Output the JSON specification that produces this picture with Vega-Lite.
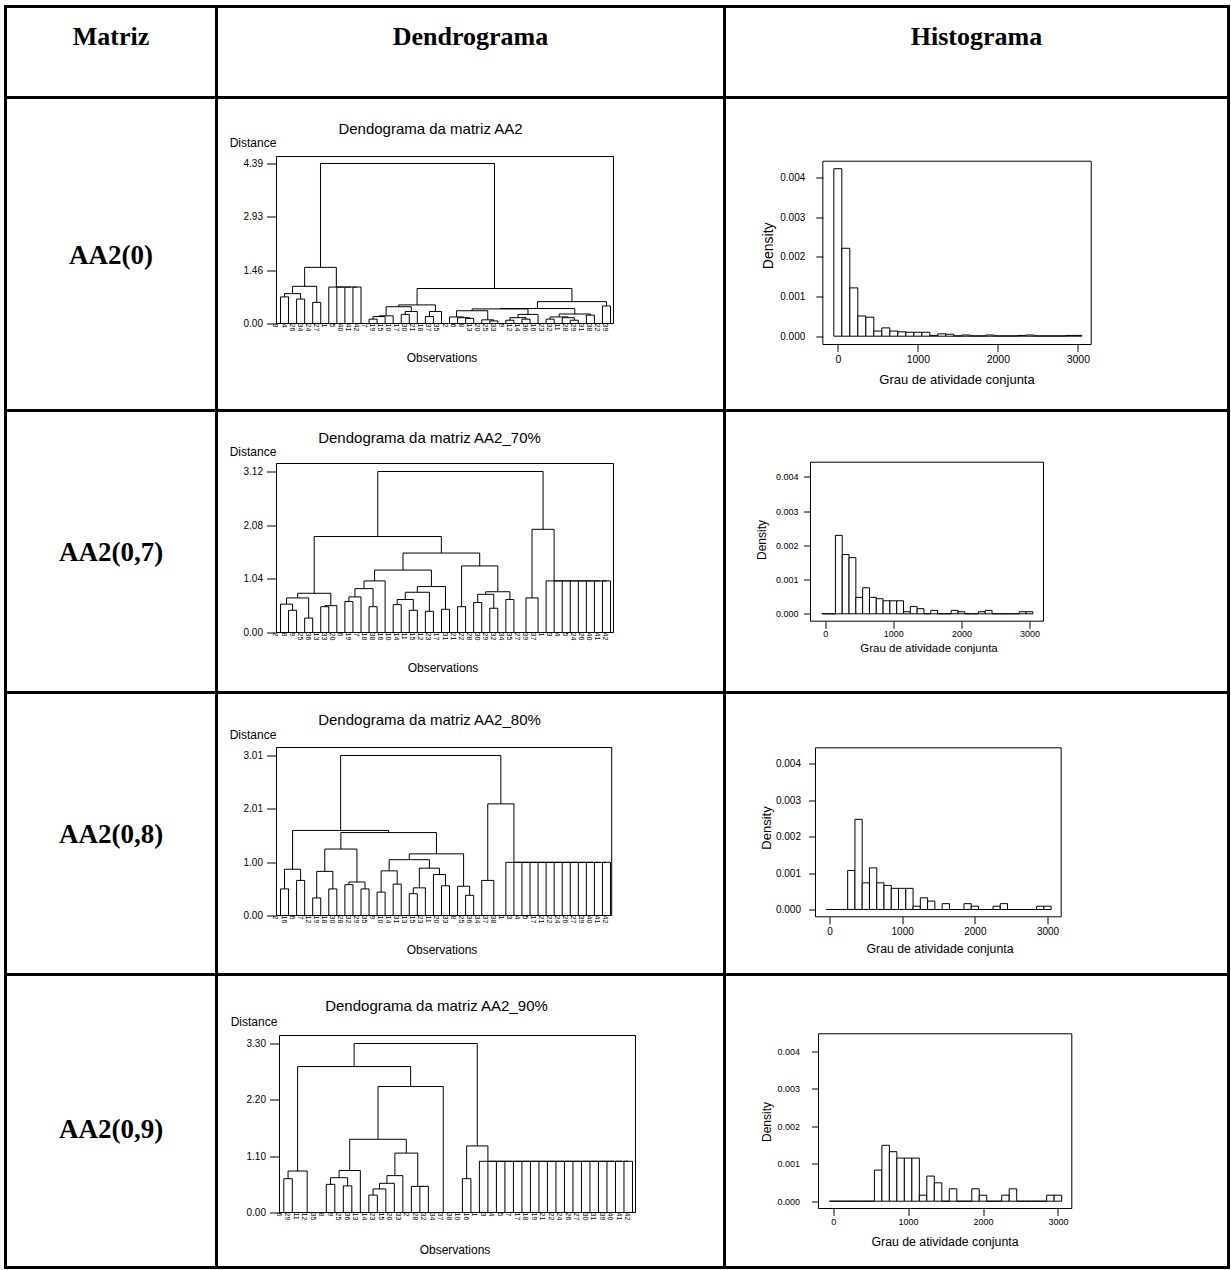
{
"$schema": "https://vega.github.io/schema/vega-lite/v6.json",
"background": "white",
"padding": {"left": 3.5, "top": 4.5, "right": 0, "bottom": 0},
"columns": 3,
"spacing": 0,
"bounds": "flush",
"config": {
  "view": {"stroke": "black", "strokeWidth": 3},
  "font": "Liberation Sans",
  "axis": {"labelColor": "black", "tickColor": "black", "titleColor": "black", "labelFont": "Liberation Sans", "titleFont": "Liberation Sans", "titleFontWeight": "normal", "grid": false, "domain": false, "tickWidth": 1},
  "title": {"color": "black", "fontWeight": "normal", "font": "Liberation Sans"}
},
"datasets": {
  "d1m": [
    {"xl":1,"hl":0,"xr":2,"hr":0,"h":0.73},{"xl":3,"hl":0,"xr":4,"hr":0,"h":0.67},{"xl":1.5,"hl":0.73,"xr":3.5,"hr":0.67,"h":0.82},
    {"xl":5,"hl":0,"xr":6,"hr":0,"h":0.58},{"xl":2.5,"hl":0.82,"xr":5.5,"hr":0.58,"h":1.02},
    {"xl":10,"hl":0,"xr":11,"hr":0,"h":1.0},{"xl":9,"hl":0,"xr":10.5,"hr":1.0,"h":1.0},{"xl":8,"hl":0,"xr":9.75,"hr":1.0,"h":1.0},{"xl":7,"hl":0,"xr":8.875,"hr":1.0,"h":1.0},
    {"xl":4,"hl":1.02,"xr":7.9375,"hr":1.0,"h":1.54},
    {"xl":12,"hl":0,"xr":13,"hr":0,"h":0.12},{"xl":12.5,"hl":0.12,"xr":14,"hr":0,"h":0.19},{"xl":13.25,"hl":0.19,"xr":15,"hr":0,"h":0.21},
    {"xl":16,"hl":0,"xr":17,"hr":0,"h":0.25},{"xl":16.5,"hl":0.25,"xr":18,"hr":0,"h":0.33},{"xl":14.125,"hl":0.21,"xr":17.25,"hr":0.33,"h":0.46},
    {"xl":19,"hl":0,"xr":20,"hr":0,"h":0.19},{"xl":19.5,"hl":0.19,"xr":21,"hr":0,"h":0.33},{"xl":15.6875,"hl":0.46,"xr":20.25,"hr":0.33,"h":0.51},
    {"xl":24,"hl":0,"xr":25,"hr":0,"h":0.14},{"xl":23,"hl":0,"xr":24.5,"hr":0.14,"h":0.16},{"xl":22,"hl":0,"xr":23.75,"hr":0.16,"h":0.18},
    {"xl":27,"hl":0,"xr":28,"hr":0,"h":0.07},{"xl":26,"hl":0,"xr":27.5,"hr":0.07,"h":0.10},{"xl":22.875,"hl":0.18,"xr":26.75,"hr":0.10,"h":0.35},
    {"xl":29,"hl":0,"xr":30,"hr":0,"h":0.09},{"xl":31,"hl":0,"xr":32,"hr":0,"h":0.12},{"xl":29.5,"hl":0.09,"xr":31.5,"hr":0.12,"h":0.16},
    {"xl":30.5,"hl":0.16,"xr":33,"hr":0,"h":0.25},{"xl":24.8125,"hl":0.35,"xr":31.75,"hr":0.25,"h":0.40},
    {"xl":34,"hl":0,"xr":35,"hr":0,"h":0.12},{"xl":37,"hl":0,"xr":38,"hr":0,"h":0.09},{"xl":36,"hl":0,"xr":37.5,"hr":0.09,"h":0.16},
    {"xl":34.5,"hl":0.12,"xr":36.75,"hr":0.16,"h":0.18},{"xl":39,"hl":0,"xr":40,"hr":0,"h":0.23},{"xl":35.625,"hl":0.18,"xr":39.5,"hr":0.23,"h":0.26},
    {"xl":28.28125,"hl":0.40,"xr":37.5625,"hr":0.26,"h":0.41},{"xl":41,"hl":0,"xr":42,"hr":0,"h":0.48},
    {"xl":32.921875,"hl":0.41,"xr":41.5,"hr":0.48,"h":0.60},{"xl":17.96875,"hl":0.51,"xr":37.2109,"hr":0.60,"h":0.96},
    {"xl":5.96875,"hl":1.54,"xr":27.5898,"hr":0.96,"h":4.39}
  ],
  "d1l": [
    {"pos":1,"lab":"3"},{"pos":2,"lab":"4"},{"pos":3,"lab":"26"},{"pos":4,"lab":"34"},{"pos":5,"lab":"24"},{"pos":6,"lab":"27"},{"pos":7,"lab":"1"},{"pos":8,"lab":"5"},{"pos":9,"lab":"40"},{"pos":10,"lab":"41"},{"pos":11,"lab":"42"},{"pos":12,"lab":"7"},{"pos":13,"lab":"19"},{"pos":14,"lab":"15"},{"pos":15,"lab":"10"},{"pos":16,"lab":"17"},{"pos":17,"lab":"30"},{"pos":18,"lab":"21"},{"pos":19,"lab":"18"},{"pos":20,"lab":"37"},{"pos":21,"lab":"35"},{"pos":22,"lab":"2"},{"pos":23,"lab":"6"},{"pos":24,"lab":"8"},{"pos":25,"lab":"13"},{"pos":26,"lab":"20"},{"pos":27,"lab":"25"},{"pos":28,"lab":"33"},{"pos":29,"lab":"9"},{"pos":30,"lab":"12"},{"pos":31,"lab":"14"},{"pos":32,"lab":"36"},{"pos":33,"lab":"16"},{"pos":34,"lab":"23"},{"pos":35,"lab":"32"},{"pos":36,"lab":"11"},{"pos":37,"lab":"28"},{"pos":38,"lab":"29"},{"pos":39,"lab":"31"},{"pos":40,"lab":"38"},{"pos":41,"lab":"22"},{"pos":42,"lab":"39"}
  ],
  "d2m": [
    {"xl":2,"hl":0,"xr":3,"hr":0,"h":0.43},{"xl":1,"hl":0,"xr":2.5,"hr":0.43,"h":0.55},{"xl":4,"hl":0,"xr":5,"hr":0,"h":0.28},
    {"xl":1.75,"hl":0.55,"xr":4.5,"hr":0.28,"h":0.67},{"xl":6,"hl":0,"xr":7,"hr":0,"h":0.50},{"xl":6.5,"hl":0.50,"xr":8,"hr":0,"h":0.52},
    {"xl":3.125,"hl":0.67,"xr":7.25,"hr":0.52,"h":0.76},{"xl":9,"hl":0,"xr":10,"hr":0,"h":0.60},{"xl":9.5,"hl":0.60,"xr":11,"hr":0,"h":0.69},
    {"xl":12,"hl":0,"xr":13,"hr":0,"h":0.50},{"xl":10.25,"hl":0.69,"xr":12.5,"hr":0.50,"h":0.85},{"xl":11.375,"hl":0.85,"xr":14,"hr":0,"h":1.00},
    {"xl":15,"hl":0,"xr":16,"hr":0,"h":0.54},{"xl":17,"hl":0,"xr":18,"hr":0,"h":0.43},{"xl":15.5,"hl":0.54,"xr":17.5,"hr":0.43,"h":0.64},
    {"xl":19,"hl":0,"xr":20,"hr":0,"h":0.41},{"xl":16.5,"hl":0.64,"xr":19.5,"hr":0.41,"h":0.78},{"xl":21,"hl":0,"xr":22,"hr":0,"h":0.45},
    {"xl":18,"hl":0.78,"xr":21.5,"hr":0.45,"h":0.89},{"xl":12.6875,"hl":1.00,"xr":19.75,"hr":0.89,"h":1.21},
    {"xl":23,"hl":0,"xr":24,"hr":0,"h":0.50},{"xl":25,"hl":0,"xr":26,"hr":0,"h":0.58},{"xl":27,"hl":0,"xr":28,"hr":0,"h":0.47},
    {"xl":25.5,"hl":0.58,"xr":27.5,"hr":0.47,"h":0.74},{"xl":29,"hl":0,"xr":30,"hr":0,"h":0.64},{"xl":26.5,"hl":0.74,"xr":29.5,"hr":0.64,"h":0.79},
    {"xl":23.5,"hl":0.50,"xr":28,"hr":0.79,"h":1.29},{"xl":16.21875,"hl":1.21,"xr":25.75,"hr":1.29,"h":1.54},
    {"xl":5.1875,"hl":0.76,"xr":20.984,"hr":1.54,"h":1.86},
    {"xl":31,"hl":0,"xr":32,"hr":0,"h":0.0},{"xl":31.5,"hl":0,"xr":33,"hr":0,"h":0.67},
    {"xl":41,"hl":0,"xr":42,"hr":0,"h":1.0},{"xl":40,"hl":0,"xr":41.5,"hr":1,"h":1.0},{"xl":39,"hl":0,"xr":40.75,"hr":1,"h":1.0},
    {"xl":38,"hl":0,"xr":39.875,"hr":1,"h":1.0},{"xl":37,"hl":0,"xr":38.9375,"hr":1,"h":1.0},{"xl":36,"hl":0,"xr":37.96875,"hr":1,"h":1.0},
    {"xl":35,"hl":0,"xr":36.984,"hr":1,"h":1.0},{"xl":34,"hl":0,"xr":35.992,"hr":1,"h":1.0},
    {"xl":32.25,"hl":0.67,"xr":34.996,"hr":1.0,"h":2.0},{"xl":13.086,"hl":1.86,"xr":33.623,"hr":2.0,"h":3.12}
  ],
  "d2l": [
    {"pos":1,"lab":"2"},{"pos":2,"lab":"8"},{"pos":3,"lab":"9"},{"pos":4,"lab":"25"},{"pos":5,"lab":"36"},{"pos":6,"lab":"13"},{"pos":7,"lab":"33"},{"pos":8,"lab":"20"},{"pos":9,"lab":"6"},{"pos":10,"lab":"19"},{"pos":11,"lab":"7"},{"pos":12,"lab":"18"},{"pos":13,"lab":"38"},{"pos":14,"lab":"16"},{"pos":15,"lab":"10"},{"pos":16,"lab":"14"},{"pos":17,"lab":"11"},{"pos":18,"lab":"15"},{"pos":19,"lab":"12"},{"pos":20,"lab":"23"},{"pos":21,"lab":"17"},{"pos":22,"lab":"31"},{"pos":23,"lab":"21"},{"pos":24,"lab":"22"},{"pos":25,"lab":"28"},{"pos":26,"lab":"30"},{"pos":27,"lab":"29"},{"pos":28,"lab":"32"},{"pos":29,"lab":"34"},{"pos":30,"lab":"35"},{"pos":31,"lab":"27"},{"pos":32,"lab":"39"},{"pos":33,"lab":"37"},{"pos":34,"lab":"1"},{"pos":35,"lab":"3"},{"pos":36,"lab":"4"},{"pos":37,"lab":"5"},{"pos":38,"lab":"24"},{"pos":39,"lab":"26"},{"pos":40,"lab":"40"},{"pos":41,"lab":"41"},{"pos":42,"lab":"42"}
  ],
  "d3m": [
    {"xl":1,"hl":0,"xr":2,"hr":0,"h":0.50},{"xl":3,"hl":0,"xr":4,"hr":0,"h":0.66},{"xl":1.5,"hl":0.50,"xr":3.5,"hr":0.66,"h":0.87},
    {"xl":5,"hl":0,"xr":6,"hr":0,"h":0.33},{"xl":7,"hl":0,"xr":8,"hr":0,"h":0.50},{"xl":5.5,"hl":0.33,"xr":7.5,"hr":0.50,"h":0.83},
    {"xl":9,"hl":0,"xr":10,"hr":0,"h":0.58},{"xl":11,"hl":0,"xr":12,"hr":0,"h":0.50},{"xl":9.5,"hl":0.58,"xr":11.5,"hr":0.50,"h":0.63},
    {"xl":6.5,"hl":0.83,"xr":10.5,"hr":0.63,"h":1.25},{"xl":13,"hl":0,"xr":14,"hr":0,"h":0.44},{"xl":15,"hl":0,"xr":16,"hr":0,"h":0.59},
    {"xl":13.5,"hl":0.44,"xr":15.5,"hr":0.59,"h":0.84},{"xl":17,"hl":0,"xr":18,"hr":0,"h":0.41},{"xl":17.5,"hl":0.41,"xr":19,"hr":0,"h":0.52},
    {"xl":21,"hl":0,"xr":22,"hr":0,"h":0.56},{"xl":20,"hl":0,"xr":21.5,"hr":0.56,"h":0.77},{"xl":18.25,"hl":0.52,"xr":20.75,"hr":0.77,"h":0.89},
    {"xl":14.5,"hl":0.84,"xr":19.5,"hr":0.89,"h":1.05},{"xl":24,"hl":0,"xr":25,"hr":0,"h":0.38},{"xl":23,"hl":0,"xr":24.5,"hr":0.38,"h":0.55},
    {"xl":17,"hl":1.05,"xr":23.75,"hr":0.55,"h":1.16},{"xl":8.5,"hl":1.25,"xr":20.375,"hr":1.16,"h":1.56},
    {"xl":2.5,"hl":0.87,"xr":14.4375,"hr":1.56,"h":1.60},{"xl":27,"hl":0,"xr":28,"hr":0,"h":0.0},{"xl":26,"hl":0,"xr":27.5,"hr":0,"h":0.66},
    {"xl":41,"hl":0,"xr":42,"hr":0,"h":1.0},{"xl":40,"hl":0,"xr":41.5,"hr":1,"h":1.0},{"xl":39,"hl":0,"xr":40.75,"hr":1,"h":1.0},
    {"xl":38,"hl":0,"xr":39.875,"hr":1,"h":1.0},{"xl":37,"hl":0,"xr":38.9375,"hr":1,"h":1.0},{"xl":36,"hl":0,"xr":37.96875,"hr":1,"h":1.0},
    {"xl":35,"hl":0,"xr":36.984,"hr":1,"h":1.0},{"xl":34,"hl":0,"xr":35.992,"hr":1,"h":1.0},{"xl":33,"hl":0,"xr":34.996,"hr":1,"h":1.0},
    {"xl":32,"hl":0,"xr":33.998,"hr":1,"h":1.0},{"xl":31,"hl":0,"xr":32.999,"hr":1,"h":1.0},{"xl":30,"hl":0,"xr":31.9995,"hr":1,"h":1.0},
    {"xl":29,"hl":0,"xr":31.0,"hr":1,"h":1.0},
    {"xl":26.75,"hl":0.66,"xr":30.0,"hr":1.0,"h":2.10},{"xl":8.46875,"hl":1.60,"xr":28.375,"hr":2.10,"h":3.01}
  ],
  "d3l": [
    {"pos":1,"lab":"2"},{"pos":2,"lab":"16"},{"pos":3,"lab":"6"},{"pos":4,"lab":"7"},{"pos":5,"lab":"12"},{"pos":6,"lab":"19"},{"pos":7,"lab":"18"},{"pos":8,"lab":"30"},{"pos":9,"lab":"28"},{"pos":10,"lab":"32"},{"pos":11,"lab":"29"},{"pos":12,"lab":"35"},{"pos":13,"lab":"9"},{"pos":14,"lab":"10"},{"pos":15,"lab":"14"},{"pos":16,"lab":"31"},{"pos":17,"lab":"13"},{"pos":18,"lab":"15"},{"pos":19,"lab":"23"},{"pos":20,"lab":"11"},{"pos":21,"lab":"20"},{"pos":22,"lab":"33"},{"pos":23,"lab":"8"},{"pos":24,"lab":"25"},{"pos":25,"lab":"36"},{"pos":26,"lab":"34"},{"pos":27,"lab":"37"},{"pos":28,"lab":"38"},{"pos":29,"lab":"1"},{"pos":30,"lab":"3"},{"pos":31,"lab":"4"},{"pos":32,"lab":"5"},{"pos":33,"lab":"17"},{"pos":34,"lab":"21"},{"pos":35,"lab":"22"},{"pos":36,"lab":"24"},{"pos":37,"lab":"26"},{"pos":38,"lab":"27"},{"pos":39,"lab":"39"},{"pos":40,"lab":"40"},{"pos":41,"lab":"41"},{"pos":42,"lab":"42"}
  ],
  "d4m": [
    {"xl":1,"hl":0,"xr":2,"hr":0,"h":0.66},{"xl":4,"hl":0,"xr":5,"hr":0,"h":0.0},{"xl":3,"hl":0,"xr":4.5,"hr":0,"h":0.0},
    {"xl":1.5,"hl":0.66,"xr":3.75,"hr":0,"h":0.81},{"xl":6,"hl":0,"xr":7,"hr":0,"h":0.55},{"xl":8,"hl":0,"xr":9,"hr":0,"h":0.52},
    {"xl":6.5,"hl":0.55,"xr":8.5,"hr":0.52,"h":0.68},{"xl":7.5,"hl":0.68,"xr":10,"hr":0,"h":0.82},
    {"xl":11,"hl":0,"xr":12,"hr":0,"h":0.34},{"xl":11.5,"hl":0.34,"xr":13,"hr":0,"h":0.46},{"xl":12.25,"hl":0.46,"xr":14,"hr":0,"h":0.57},
    {"xl":13.125,"hl":0.57,"xr":15,"hr":0,"h":0.72},{"xl":17,"hl":0,"xr":18,"hr":0,"h":0.51},{"xl":16,"hl":0,"xr":17.5,"hr":0.51,"h":0.51},
    {"xl":14.0625,"hl":0.72,"xr":16.75,"hr":0.51,"h":1.16},{"xl":8.75,"hl":0.82,"xr":15.40625,"hr":1.16,"h":1.43},
    {"xl":20,"hl":0,"xr":21,"hr":0,"h":0.0},{"xl":19,"hl":0,"xr":20.5,"hr":0,"h":0.0},
    {"xl":12.078,"hl":1.43,"xr":19.75,"hr":0,"h":2.46},{"xl":2.625,"hl":0.81,"xr":15.914,"hr":2.46,"h":2.85},
    {"xl":22,"hl":0,"xr":23,"hr":0,"h":0.66},
    {"xl":41,"hl":0,"xr":42,"hr":0,"h":1.0},{"xl":40,"hl":0,"xr":41.5,"hr":1,"h":1.0},{"xl":39,"hl":0,"xr":40.75,"hr":1,"h":1.0},
    {"xl":38,"hl":0,"xr":39.875,"hr":1,"h":1.0},{"xl":37,"hl":0,"xr":38.9375,"hr":1,"h":1.0},{"xl":36,"hl":0,"xr":37.96875,"hr":1,"h":1.0},
    {"xl":35,"hl":0,"xr":36.984,"hr":1,"h":1.0},{"xl":34,"hl":0,"xr":35.992,"hr":1,"h":1.0},{"xl":33,"hl":0,"xr":34.996,"hr":1,"h":1.0},
    {"xl":32,"hl":0,"xr":33.998,"hr":1,"h":1.0},{"xl":31,"hl":0,"xr":32.999,"hr":1,"h":1.0},{"xl":30,"hl":0,"xr":31.9995,"hr":1,"h":1.0},
    {"xl":29,"hl":0,"xr":31.0,"hr":1,"h":1.0},{"xl":28,"hl":0,"xr":30.0,"hr":1,"h":1.0},{"xl":27,"hl":0,"xr":29.0,"hr":1,"h":1.0},
    {"xl":26,"hl":0,"xr":28.0,"hr":1,"h":1.0},{"xl":25,"hl":0,"xr":27.0,"hr":1,"h":1.0},{"xl":24,"hl":0,"xr":26.0,"hr":1,"h":1.0},
    {"xl":22.5,"hl":0.66,"xr":25.0,"hr":1.0,"h":1.30},{"xl":9.2695,"hl":2.85,"xr":23.75,"hr":1.30,"h":3.30}
  ],
  "d4l": [
    {"pos":1,"lab":"6"},{"pos":2,"lab":"29"},{"pos":3,"lab":"11"},{"pos":4,"lab":"12"},{"pos":5,"lab":"35"},{"pos":6,"lab":"8"},{"pos":7,"lab":"9"},{"pos":8,"lab":"25"},{"pos":9,"lab":"36"},{"pos":10,"lab":"13"},{"pos":11,"lab":"14"},{"pos":12,"lab":"23"},{"pos":13,"lab":"15"},{"pos":14,"lab":"20"},{"pos":15,"lab":"33"},{"pos":16,"lab":"2"},{"pos":17,"lab":"28"},{"pos":18,"lab":"32"},{"pos":19,"lab":"34"},{"pos":20,"lab":"37"},{"pos":21,"lab":"38"},{"pos":22,"lab":"10"},{"pos":23,"lab":"16"},{"pos":24,"lab":"1"},{"pos":25,"lab":"3"},{"pos":26,"lab":"4"},{"pos":27,"lab":"5"},{"pos":28,"lab":"7"},{"pos":29,"lab":"17"},{"pos":30,"lab":"18"},{"pos":31,"lab":"19"},{"pos":32,"lab":"21"},{"pos":33,"lab":"22"},{"pos":34,"lab":"24"},{"pos":35,"lab":"26"},{"pos":36,"lab":"27"},{"pos":37,"lab":"30"},{"pos":38,"lab":"31"},{"pos":39,"lab":"39"},{"pos":40,"lab":"40"},{"pos":41,"lab":"41"},{"pos":42,"lab":"42"}
  ],
  "h1": [
    {"b0":-50,"b1":50,"d":0.00423},{"b0":50,"b1":150,"d":0.00222},{"b0":150,"b1":250,"d":0.00122},{"b0":250,"b1":350,"d":0.00051},{"b0":350,"b1":450,"d":0.00048},{"b0":450,"b1":550,"d":0.00013},{"b0":550,"b1":650,"d":0.00021},{"b0":650,"b1":750,"d":0.00013},{"b0":750,"b1":850,"d":0.00011},{"b0":850,"b1":950,"d":0.0001},{"b0":950,"b1":1050,"d":0.0001},{"b0":1050,"b1":1150,"d":0.0001},{"b0":1150,"b1":1250,"d":0.00002},{"b0":1250,"b1":1350,"d":0.00006},{"b0":1350,"b1":1450,"d":0.00005},{"b0":1450,"b1":1550,"d":0.00001},{"b0":1550,"b1":1650,"d":0.00003},{"b0":1650,"b1":1750,"d":0.00001},{"b0":1750,"b1":1850,"d":0.00001},{"b0":1850,"b1":1950,"d":0.00003},{"b0":1950,"b1":2050,"d":0.00001},{"b0":2050,"b1":2150,"d":0.00001},{"b0":2150,"b1":2250,"d":0.00001},{"b0":2250,"b1":2350,"d":0.00002},{"b0":2350,"b1":2450,"d":0.00003},{"b0":2450,"b1":2550,"d":0.00001},{"b0":2550,"b1":2650,"d":0.00001},{"b0":2650,"b1":2750,"d":0.00001},{"b0":2750,"b1":2850,"d":0.00001},{"b0":2850,"b1":2950,"d":0.00002},{"b0":2950,"b1":3050,"d":0.00002}
  ],
  "h2": [
    {"b0":-50,"b1":50,"d":0},{"b0":50,"b1":150,"d":0},{"b0":150,"b1":250,"d":0.00229},{"b0":250,"b1":350,"d":0.00173},{"b0":350,"b1":450,"d":0.00164},{"b0":450,"b1":550,"d":0.00048},{"b0":550,"b1":650,"d":0.00076},{"b0":650,"b1":750,"d":0.00048},{"b0":750,"b1":850,"d":0.00044},{"b0":850,"b1":950,"d":0.00038},{"b0":950,"b1":1050,"d":0.00038},{"b0":1050,"b1":1150,"d":0.00038},{"b0":1150,"b1":1250,"d":0.00006},{"b0":1250,"b1":1350,"d":0.00021},{"b0":1350,"b1":1450,"d":0.00015},{"b0":1450,"b1":1550,"d":0},{"b0":1550,"b1":1650,"d":0.0001},{"b0":1650,"b1":1750,"d":0},{"b0":1750,"b1":1850,"d":0},{"b0":1850,"b1":1950,"d":0.0001},{"b0":1950,"b1":2050,"d":0.00006},{"b0":2050,"b1":2150,"d":0},{"b0":2150,"b1":2250,"d":0},{"b0":2250,"b1":2350,"d":0.00006},{"b0":2350,"b1":2450,"d":0.0001},{"b0":2450,"b1":2550,"d":0},{"b0":2550,"b1":2650,"d":0},{"b0":2650,"b1":2750,"d":0},{"b0":2750,"b1":2850,"d":0},{"b0":2850,"b1":2950,"d":0.00006},{"b0":2950,"b1":3050,"d":0.00006}
  ],
  "h3": [
    {"b0":-50,"b1":50,"d":0},{"b0":50,"b1":150,"d":0},{"b0":150,"b1":250,"d":0},{"b0":250,"b1":350,"d":0.00107},{"b0":350,"b1":450,"d":0.00247},{"b0":450,"b1":550,"d":0.00073},{"b0":550,"b1":650,"d":0.00114},{"b0":650,"b1":750,"d":0.00073},{"b0":750,"b1":850,"d":0.00066},{"b0":850,"b1":950,"d":0.00058},{"b0":950,"b1":1050,"d":0.00058},{"b0":1050,"b1":1150,"d":0.00058},{"b0":1150,"b1":1250,"d":0.00009},{"b0":1250,"b1":1350,"d":0.00032},{"b0":1350,"b1":1450,"d":0.00023},{"b0":1450,"b1":1550,"d":0},{"b0":1550,"b1":1650,"d":0.00016},{"b0":1650,"b1":1750,"d":0},{"b0":1750,"b1":1850,"d":0},{"b0":1850,"b1":1950,"d":0.00016},{"b0":1950,"b1":2050,"d":0.00009},{"b0":2050,"b1":2150,"d":0},{"b0":2150,"b1":2250,"d":0},{"b0":2250,"b1":2350,"d":0.00009},{"b0":2350,"b1":2450,"d":0.00016},{"b0":2450,"b1":2550,"d":0},{"b0":2550,"b1":2650,"d":0},{"b0":2650,"b1":2750,"d":0},{"b0":2750,"b1":2850,"d":0},{"b0":2850,"b1":2950,"d":0.00009},{"b0":2950,"b1":3050,"d":0.00009}
  ],
  "h4": [
    {"b0":-50,"b1":50,"d":0},{"b0":50,"b1":150,"d":0},{"b0":150,"b1":250,"d":0},{"b0":250,"b1":350,"d":0},{"b0":350,"b1":450,"d":0},{"b0":450,"b1":550,"d":0},{"b0":550,"b1":650,"d":0.00083},{"b0":650,"b1":750,"d":0.00149},{"b0":750,"b1":850,"d":0.00132},{"b0":850,"b1":950,"d":0.00115},{"b0":950,"b1":1050,"d":0.00115},{"b0":1050,"b1":1150,"d":0.00115},{"b0":1150,"b1":1250,"d":0.00016},{"b0":1250,"b1":1350,"d":0.00067},{"b0":1350,"b1":1450,"d":0.00049},{"b0":1450,"b1":1550,"d":0},{"b0":1550,"b1":1650,"d":0.00033},{"b0":1650,"b1":1750,"d":0},{"b0":1750,"b1":1850,"d":0},{"b0":1850,"b1":1950,"d":0.00033},{"b0":1950,"b1":2050,"d":0.00016},{"b0":2050,"b1":2150,"d":0},{"b0":2150,"b1":2250,"d":0},{"b0":2250,"b1":2350,"d":0.00016},{"b0":2350,"b1":2450,"d":0.00033},{"b0":2450,"b1":2550,"d":0},{"b0":2550,"b1":2650,"d":0},{"b0":2650,"b1":2750,"d":0},{"b0":2750,"b1":2850,"d":0},{"b0":2850,"b1":2950,"d":0.00016},{"b0":2950,"b1":3050,"d":0.00016}
  ]
},
"concat": [
  {"width": 211, "height": 91, "view": {"stroke": "black", "strokeWidth": 3}, "data": {"values": [{"t": "Matriz"}]}, "mark": {"type": "text", "font": "Liberation Serif", "fontWeight": "bold", "fontSize": 26, "baseline": "alphabetic", "dy": -7.5, "color": "black"}, "encoding": {"x": {"datum": 0, "type": "quantitative", "scale": {"domain": [-1, 1]}, "axis": null}, "y": {"datum": 0, "type": "quantitative", "scale": {"domain": [-1, 1]}, "axis": null}, "text": {"field": "t", "type": "nominal"}}},
  {"width": 508, "height": 91, "view": {"stroke": "black", "strokeWidth": 3}, "data": {"values": [{"t": "Dendrograma"}]}, "mark": {"type": "text", "font": "Liberation Serif", "fontWeight": "bold", "fontSize": 26, "baseline": "alphabetic", "dy": -7.5, "color": "black"}, "encoding": {"x": {"datum": 0, "type": "quantitative", "scale": {"domain": [-1, 1]}, "axis": null}, "y": {"datum": 0, "type": "quantitative", "scale": {"domain": [-1, 1]}, "axis": null}, "text": {"field": "t", "type": "nominal"}}},
  {"width": 504, "height": 91, "view": {"stroke": "black", "strokeWidth": 3}, "data": {"values": [{"t": "Histograma"}]}, "mark": {"type": "text", "font": "Liberation Serif", "fontWeight": "bold", "fontSize": 26, "baseline": "alphabetic", "dy": -7.5, "color": "black"}, "encoding": {"x": {"datum": 0, "type": "quantitative", "scale": {"domain": [-1, 1]}, "axis": null}, "y": {"datum": 0, "type": "quantitative", "scale": {"domain": [-1, 1]}, "axis": null}, "text": {"field": "t", "type": "nominal"}}},

  {"width": 211, "height": 313, "view": {"stroke": "black", "strokeWidth": 3}, "data": {"values": [{"t": "AA2(0)"}]}, "mark": {"type": "text", "font": "Liberation Serif", "fontWeight": "bold", "fontSize": 27, "baseline": "alphabetic", "dy": 10, "color": "black"}, "encoding": {"x": {"datum": 0, "type": "quantitative", "scale": {"domain": [-1, 1]}, "axis": null}, "y": {"datum": 0, "type": "quantitative", "scale": {"domain": [-1, 1]}, "axis": null}, "text": {"field": "t", "type": "nominal"}}},
  {"width": 508, "height": 313,
   "title": {"text": "Dendograma da matriz AA2", "fontSize": 15, "anchor": "middle", "frame": "group", "offset": -46, "baseline": "middle", "dx": -40},
   "layer": [
    {"data": {"name": "d1m"}, "mark": {"type": "rule", "color": "black", "strokeWidth": 1},
     "encoding": {
      "x": {"field": "xl", "type": "quantitative", "scale": {"domain": [-6.9515, 56.164], "nice": false, "zero": false}, "axis": {"title": "Observations", "labels": false, "ticks": false, "titleX": 225, "titleY": -53, "titleFontSize": 12, "titleAlign": "center", "titleBaseline": "middle"}},
      "x2": {"field": "xr"},
      "y": {"field": "h", "type": "quantitative", "scale": {"domain": [-2.3868, 6.2003], "nice": false, "zero": false}, "axis": {"title": "Distance", "values": [0, 1.4633333, 2.9266667, 4.39], "format": ".2f", "offset": -60, "tickSize": 10, "labelPadding": 4, "labelFontSize": 10, "titleAngle": 0, "titleX": -24, "titleY": 45, "titleAlign": "center", "titleBaseline": "middle", "titleFontSize": 12}}
     }},
    {"data": {"name": "d1m"}, "mark": {"type": "rule", "color": "black", "strokeWidth": 1}, "encoding": {"x": {"field": "xl", "type": "quantitative"}, "y": {"field": "hl", "type": "quantitative"}, "y2": {"field": "h"}}},
    {"data": {"name": "d1m"}, "mark": {"type": "rule", "color": "black", "strokeWidth": 1}, "encoding": {"x": {"field": "xr", "type": "quantitative"}, "y": {"field": "hr", "type": "quantitative"}, "y2": {"field": "h"}}},
    {"data": {"name": "d1l"}, "mark": {"type": "text", "angle": 90, "align": "left", "baseline": "middle", "dy": 5, "fontSize": 7, "color": "black"}, "encoding": {"x": {"field": "pos", "type": "quantitative"}, "y": {"datum": 0}, "text": {"field": "lab", "type": "nominal"}}},
    {"data": {"values": [{}]}, "mark": {"type": "rect", "fill": "transparent", "stroke": "black", "strokeWidth": 1}, "encoding": {"x": {"datum": 0.5}, "x2": {"datum": 42.37}, "y": {"datum": 0}, "y2": {"datum": 4.58}}}
   ]},
  {"width": 504, "height": 313,
   "layer": [
    {"data": {"name": "h1"}, "mark": {"type": "rect", "fill": "white", "stroke": "black", "strokeWidth": 1},
     "encoding": {
      "x": {"field": "b0", "type": "quantitative", "scale": {"domain": [-1416.7, 4883.75], "nice": false, "zero": false}, "axis": {"values": [0, 1000, 2000, 3000], "format": "d", "offset": -66, "tickSize": 7, "labelPadding": 3, "labelFontSize": 10.5, "title": "Grau de atividade conjunta", "titleX": 232, "titleY": 35, "titleFontSize": 13, "titleAlign": "center", "titleBaseline": "middle"}},
      "x2": {"field": "b1"},
      "y": {"field": "d", "type": "quantitative", "scale": {"domain": [-0.0018763, 0.0060278], "nice": false, "zero": false}, "axis": {"values": [0, 0.001, 0.002, 0.003, 0.004], "format": ".3f", "offset": -98.3, "tickSize": 7, "labelPadding": 11, "labelFontSize": 10, "title": "Density", "titleAngle": 270, "titleX": -54.3, "titleY": 147.8, "titleFontSize": 14, "titleAlign": "center", "titleBaseline": "middle"}},
      "y2": {"datum": 0}
     }},
    {"data": {"values": [{}]}, "mark": {"type": "rect", "fill": "transparent", "stroke": "black", "strokeWidth": 1}, "encoding": {"x": {"datum": -187.5}, "x2": {"datum": 3167.5}, "y": {"datum": -0.00021}, "y2": {"datum": 0.004419}}}
   ]},

  {"width": 211, "height": 282, "view": {"stroke": "black", "strokeWidth": 3}, "data": {"values": [{"t": "AA2(0,7)"}]}, "mark": {"type": "text", "font": "Liberation Serif", "fontWeight": "bold", "fontSize": 27, "baseline": "alphabetic", "dy": 9, "color": "black"}, "encoding": {"x": {"datum": 0, "type": "quantitative", "scale": {"domain": [-1, 1]}, "axis": null}, "y": {"datum": 0, "type": "quantitative", "scale": {"domain": [-1, 1]}, "axis": null}, "text": {"field": "t", "type": "nominal"}}},
  {"width": 508, "height": 282,
   "title": {"text": "Dendograma da matriz AA2_70%", "fontSize": 15, "anchor": "middle", "frame": "group", "offset": -42, "baseline": "middle", "dx": -41},
   "layer": [
    {"data": {"name": "d2m"}, "mark": {"type": "rule", "color": "black", "strokeWidth": 1},
     "encoding": {
      "x": {"field": "xl", "type": "quantitative", "scale": {"domain": [-6.9515, 56.164], "nice": false, "zero": false}, "axis": {"title": "Observations", "labels": false, "ticks": false, "titleX": 226, "titleY": -25, "titleFontSize": 12, "titleAlign": "center", "titleBaseline": "middle"}},
      "x2": {"field": "xr"},
      "y": {"field": "h", "type": "quantitative", "scale": {"domain": [-1.1628, 4.3023], "nice": false, "zero": false}, "axis": {"title": "Distance", "values": [0, 1.04, 2.08, 3.12], "format": ".2f", "offset": -60, "tickSize": 10, "labelPadding": 4, "labelFontSize": 10, "titleAngle": 0, "titleX": -24, "titleY": 41, "titleAlign": "center", "titleBaseline": "middle", "titleFontSize": 12}}
     }},
    {"data": {"name": "d2m"}, "mark": {"type": "rule", "color": "black", "strokeWidth": 1}, "encoding": {"x": {"field": "xl", "type": "quantitative"}, "y": {"field": "hl", "type": "quantitative"}, "y2": {"field": "h"}}},
    {"data": {"name": "d2m"}, "mark": {"type": "rule", "color": "black", "strokeWidth": 1}, "encoding": {"x": {"field": "xr", "type": "quantitative"}, "y": {"field": "hr", "type": "quantitative"}, "y2": {"field": "h"}}},
    {"data": {"name": "d2l"}, "mark": {"type": "text", "angle": 90, "align": "left", "baseline": "middle", "dy": 5, "fontSize": 7, "color": "black"}, "encoding": {"x": {"field": "pos", "type": "quantitative"}, "y": {"datum": 0}, "text": {"field": "lab", "type": "nominal"}}},
    {"data": {"values": [{}]}, "mark": {"type": "rect", "fill": "transparent", "stroke": "black", "strokeWidth": 1}, "encoding": {"x": {"datum": 0.5}, "x2": {"datum": 42.37}, "y": {"datum": 0}, "y2": {"datum": 3.275}}}
   ]},
  {"width": 504, "height": 282,
   "layer": [
    {"data": {"name": "h2"}, "mark": {"type": "rect", "fill": "white", "stroke": "black", "strokeWidth": 1},
     "encoding": {
      "x": {"field": "b0", "type": "quantitative", "scale": {"domain": [-1478.7, 5922.2], "nice": false, "zero": false}, "axis": {"values": [0, 1000, 2000, 3000], "format": "d", "offset": -71.3, "tickSize": 7, "labelPadding": 1, "labelFontSize": 9, "title": "Grau de atividade conjunta", "titleX": 204, "titleY": 27.3, "titleFontSize": 11.5, "titleAlign": "center", "titleBaseline": "middle"}},
      "x2": {"field": "b1"},
      "y": {"field": "d", "type": "quantitative", "scale": {"domain": [-0.0022978, 0.0059358], "nice": false, "zero": false}, "axis": {"values": [0, 0.001, 0.002, 0.003, 0.004], "format": ".3f", "offset": -86, "tickSize": 7, "labelPadding": 5.5, "labelFontSize": 9, "title": "Density", "titleAngle": 270, "titleX": -49, "titleY": 129, "titleFontSize": 12, "titleAlign": "center", "titleBaseline": "middle"}},
      "y2": {"datum": 0}
     }},
    {"data": {"values": [{}]}, "mark": {"type": "rect", "fill": "transparent", "stroke": "black", "strokeWidth": 1}, "encoding": {"x": {"datum": -215.9}, "x2": {"datum": 3205.6}, "y": {"datum": -0.000216}, "y2": {"datum": 0.004426}}}
   ]},

  {"width": 211, "height": 282, "view": {"stroke": "black", "strokeWidth": 3}, "data": {"values": [{"t": "AA2(0,8)"}]}, "mark": {"type": "text", "font": "Liberation Serif", "fontWeight": "bold", "fontSize": 27, "baseline": "alphabetic", "dy": 9, "color": "black"}, "encoding": {"x": {"datum": 0, "type": "quantitative", "scale": {"domain": [-1, 1]}, "axis": null}, "y": {"datum": 0, "type": "quantitative", "scale": {"domain": [-1, 1]}, "axis": null}, "text": {"field": "t", "type": "nominal"}}},
  {"width": 508, "height": 282,
   "title": {"text": "Dendograma da matriz AA2_80%", "fontSize": 15, "anchor": "middle", "frame": "group", "offset": -42, "baseline": "middle", "dx": -41},
   "layer": [
    {"data": {"name": "d3m"}, "mark": {"type": "rule", "color": "black", "strokeWidth": 1},
     "encoding": {
      "x": {"field": "xl", "type": "quantitative", "scale": {"domain": [-6.9515, 56.164], "nice": false, "zero": false}, "axis": {"title": "Observations", "labels": false, "ticks": false, "titleX": 225, "titleY": -25, "titleFontSize": 12, "titleAlign": "center", "titleBaseline": "middle"}},
      "x2": {"field": "xr"},
      "y": {"field": "h", "type": "quantitative", "scale": {"domain": [-1.1099, 4.1949], "nice": false, "zero": false}, "axis": {"title": "Distance", "values": [0, 1.0033333, 2.0066667, 3.01], "format": ".2f", "offset": -60, "tickSize": 10, "labelPadding": 4, "labelFontSize": 10, "titleAngle": 0, "titleX": -24, "titleY": 42, "titleAlign": "center", "titleBaseline": "middle", "titleFontSize": 12}}
     }},
    {"data": {"name": "d3m"}, "mark": {"type": "rule", "color": "black", "strokeWidth": 1}, "encoding": {"x": {"field": "xl", "type": "quantitative"}, "y": {"field": "hl", "type": "quantitative"}, "y2": {"field": "h"}}},
    {"data": {"name": "d3m"}, "mark": {"type": "rule", "color": "black", "strokeWidth": 1}, "encoding": {"x": {"field": "xr", "type": "quantitative"}, "y": {"field": "hr", "type": "quantitative"}, "y2": {"field": "h"}}},
    {"data": {"name": "d3l"}, "mark": {"type": "text", "angle": 90, "align": "left", "baseline": "middle", "dy": 5, "fontSize": 7, "color": "black"}, "encoding": {"x": {"field": "pos", "type": "quantitative"}, "y": {"datum": 0}, "text": {"field": "lab", "type": "nominal"}}},
    {"data": {"values": [{}]}, "mark": {"type": "rect", "fill": "transparent", "stroke": "black", "strokeWidth": 1}, "encoding": {"x": {"datum": 0.5}, "x2": {"datum": 42.15}, "y": {"datum": 0}, "y2": {"datum": 3.16}}}
   ]},
  {"width": 504, "height": 282,
   "layer": [
    {"data": {"name": "h3"}, "mark": {"type": "rect", "fill": "white", "stroke": "black", "strokeWidth": 1},
     "encoding": {
      "x": {"field": "b0", "type": "quantitative", "scale": {"domain": [-1444.9, 5490.6], "nice": false, "zero": false}, "axis": {"values": [0, 1000, 2000, 3000], "format": "d", "offset": -57.7, "tickSize": 7, "labelPadding": 2.4, "labelFontSize": 10, "title": "Grau de atividade conjunta", "titleX": 215, "titleY": 31.7, "titleFontSize": 12.3, "titleAlign": "center", "titleBaseline": "middle"}},
      "x2": {"field": "b1"},
      "y": {"field": "d", "type": "quantitative", "scale": {"domain": [-0.0017808, 0.0059452], "nice": false, "zero": false}, "axis": {"values": [0, 0.001, 0.002, 0.003, 0.004], "format": ".3f", "offset": -91, "tickSize": 7, "labelPadding": 8, "labelFontSize": 10, "title": "Density", "titleAngle": 270, "titleX": -49, "titleY": 135, "titleFontSize": 13, "titleAlign": "center", "titleBaseline": "middle"}},
      "y2": {"datum": 0}
     }},
    {"data": {"values": [{}]}, "mark": {"type": "rect", "fill": "transparent", "stroke": "black", "strokeWidth": 1}, "encoding": {"x": {"datum": -192.7}, "x2": {"datum": 3188}, "y": {"datum": -0.0002}, "y2": {"datum": 0.00443}}}
   ]},

  {"width": 211, "height": 293, "view": {"stroke": "black", "strokeWidth": 3}, "data": {"values": [{"t": "AA2(0,9)"}]}, "mark": {"type": "text", "font": "Liberation Serif", "fontWeight": "bold", "fontSize": 27, "baseline": "alphabetic", "dy": 17, "color": "black"}, "encoding": {"x": {"datum": 0, "type": "quantitative", "scale": {"domain": [-1, 1]}, "axis": null}, "y": {"datum": 0, "type": "quantitative", "scale": {"domain": [-1, 1]}, "axis": null}, "text": {"field": "t", "type": "nominal"}}},
  {"width": 508, "height": 293,
   "title": {"text": "Dendograma da matriz AA2_90%", "fontSize": 15, "anchor": "middle", "frame": "group", "offset": -46, "baseline": "middle", "dx": -34},
   "layer": [
    {"data": {"name": "d4m"}, "mark": {"type": "rule", "color": "black", "strokeWidth": 1},
     "encoding": {
      "x": {"field": "xl", "type": "quantitative", "scale": {"domain": [-6.913, 52.82], "nice": false, "zero": false}, "axis": {"title": "Observations", "labels": false, "ticks": false, "titleX": 238, "titleY": -18, "titleFontSize": 12, "titleAlign": "center", "titleBaseline": "middle"}},
      "x2": {"field": "xr"},
      "y": {"field": "h", "type": "quantitative", "scale": {"domain": [-1.074, 4.6475], "nice": false, "zero": false}, "axis": {"title": "Distance", "values": [0, 1.1, 2.2, 3.3], "format": ".2f", "offset": -63, "tickSize": 10, "labelPadding": 4, "labelFontSize": 10, "titleAngle": 0, "titleX": -26, "titleY": 47, "titleAlign": "center", "titleBaseline": "middle", "titleFontSize": 12}}
     }},
    {"data": {"name": "d4m"}, "mark": {"type": "rule", "color": "black", "strokeWidth": 1}, "encoding": {"x": {"field": "xl", "type": "quantitative"}, "y": {"field": "hl", "type": "quantitative"}, "y2": {"field": "h"}}},
    {"data": {"name": "d4m"}, "mark": {"type": "rule", "color": "black", "strokeWidth": 1}, "encoding": {"x": {"field": "xr", "type": "quantitative"}, "y": {"field": "hr", "type": "quantitative"}, "y2": {"field": "h"}}},
    {"data": {"name": "d4l"}, "mark": {"type": "text", "angle": 90, "align": "left", "baseline": "middle", "dy": 5, "fontSize": 7, "color": "black"}, "encoding": {"x": {"field": "pos", "type": "quantitative"}, "y": {"datum": 0}, "text": {"field": "lab", "type": "nominal"}}},
    {"data": {"values": [{}]}, "mark": {"type": "rect", "fill": "transparent", "stroke": "black", "strokeWidth": 1}, "encoding": {"x": {"datum": 0.494}, "x2": {"datum": 42.35}, "y": {"datum": 0}, "y2": {"datum": 3.456}}}
   ]},
  {"width": 504, "height": 293,
   "layer": [
    {"data": {"name": "h4"}, "mark": {"type": "rect", "fill": "white", "stroke": "black", "strokeWidth": 1},
     "encoding": {
      "x": {"field": "b0", "type": "quantitative", "scale": {"domain": [-1451.3, 5277.7], "nice": false, "zero": false}, "axis": {"values": [0, 1000, 2000, 3000], "format": "d", "offset": -59, "tickSize": 7, "labelPadding": 2, "labelFontSize": 9, "title": "Grau de atividade conjunta", "titleX": 220, "titleY": 33, "titleFontSize": 12.3, "titleAlign": "center", "titleBaseline": "middle"}},
      "x2": {"field": "b1"},
      "y": {"field": "d", "type": "quantitative", "scale": {"domain": [-0.001768, 0.006045], "nice": false, "zero": false}, "axis": {"values": [0, 0.001, 0.002, 0.003, 0.004], "format": ".3f", "offset": -94, "tickSize": 7, "labelPadding": 12, "labelFontSize": 9, "title": "Density", "titleAngle": 270, "titleX": -52, "titleY": 147, "titleFontSize": 12, "titleAlign": "center", "titleBaseline": "middle"}},
      "y2": {"datum": 0}
     }},
    {"data": {"values": [{}]}, "mark": {"type": "rect", "fill": "transparent", "stroke": "black", "strokeWidth": 1}, "encoding": {"x": {"datum": -196.3}, "x2": {"datum": 3185.6}, "y": {"datum": -0.000195}, "y2": {"datum": 0.004464}}}
   ]}
]
}
